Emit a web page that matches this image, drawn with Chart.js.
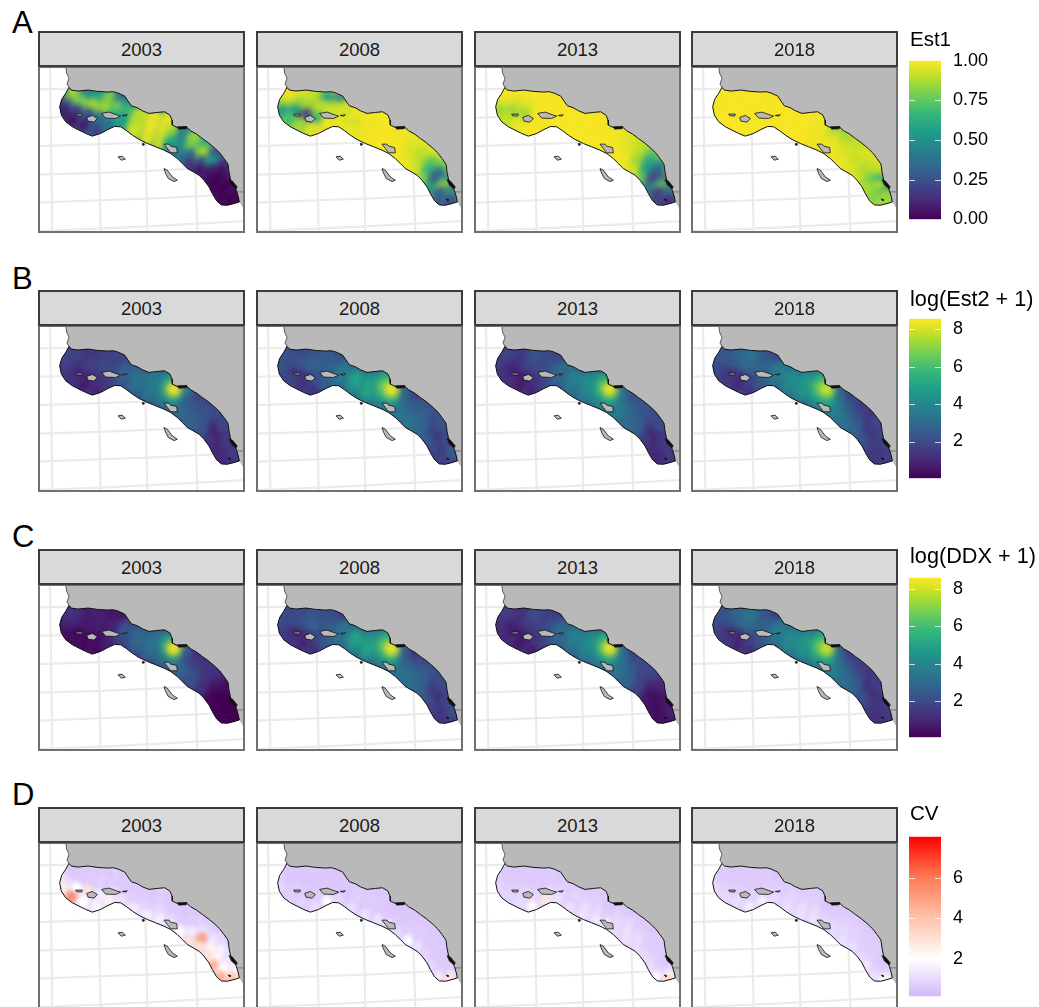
<!DOCTYPE html>
<html>
<head>
<meta charset="utf-8">
<script src="https://cdn.jsdelivr.net/npm/chart.js@4"></script>
<style>
html, body { margin: 0; background: #fff; }
#page { position: relative; width: 1039px; height: 1007px; overflow: hidden; font-family: "Liberation Sans", sans-serif; color: #000; }
#page > * { position: absolute; }
.strip { box-sizing: border-box; width: 207px; height: 36px; background: #d9d9d9; border: 2px solid #3c3c3c; color: #1a1a1a; font-size: 18.5px; line-height: 33px; text-align: center; }
.frame { box-sizing: border-box; width: 207px; height: 167px; border: 2px solid #707070; }
.letter { font-size: 31px; line-height: 30px; }
.ltitle { line-height: 24px; white-space: nowrap; }
</style>
</head>
<body>
<div id="page"></div>
<script>
const years = ['2003', '2008', '2013', '2018'];
const letters = ['A', 'B', 'C', 'D'];

// Map outlines, in map units (3 units per pixel of a panel)
const coastX = [205,212,232,262,290,320,338,352,372,380,392,410,425,445,470,492,508,514,515,530,558,570,588,605,622,640,657,670,682,685,690,700,707,713,716];
const coastY = [232,240,243,240,244,246,245,249,258,270,287,293,302,310,307,305,315,330,345,352,351,362,372,385,397,412,428,445,462,485,510,525,540,560,575];
const offX = [700,680,662,648,635,625,610,595,578,560,545,530,510,490,465,440,415,395,378,360,342,322,300,275,255,235,215,195,182,177,183,195];
const offY = [580,585,584,572,550,530,510,495,485,475,460,445,430,420,410,400,388,375,362,350,349,358,370,378,370,360,350,335,315,290,268,250];
const northCoastX = [195,198,205,199,205];
const northCoastY = [168,190,205,222,232];
const landCornerX = [728,733,733,195];
const landCornerY = [595,595,168,168];
const borderLineX = [710,733];
const borderLineY = [545,545];

const islands = [
  [[225,312],[245,312],[243,318],[228,317]],
  [[258,322],[275,316],[290,325],[280,336],[262,333]],
  [[303,310],[325,306],[350,315],[360,318],[345,325],[315,324]],
  [[365,316],[380,314],[375,318]],
  [[490,402],[505,402],[510,408],[528,412],[530,428],[510,428],[500,415]],
  [[352,440],[365,438],[374,447],[362,450]],
  [[490,475],[500,480],[515,500],[530,510],[520,514],[503,505],[495,490]]
];
const blobs = [
  [[530,350],[558,349],[556,356],[534,357]],
  [[425,400],[430,400],[430,405],[425,405]],
  [[685,508],[695,512],[710,530],[706,536],[692,524]],
  [[682,566],[690,568],[688,572]]
];

// Graticule lines
const gridLines = [
  [[148,168],[155,668]], [[290,168],[300,668]], [[430,168],[440,668]], [[575,168],[590,668]],
  [[112,238],[300,234]], [[112,323],[300,318]], [[112,408],[300,402],[440,397],[600,390]],
  [[112,493],[300,488],[440,482],[590,475],[733,468]], [[112,577],[300,570],[440,565],[590,558],[733,550]],
  [[112,662],[300,655],[440,648],[590,640],[733,632]]
];

// Sampling sections across the strip: coast end and offshore end
const sectCoastX = [208,235,265,300,335,370,392,425,465,505,520,555,585,620,650,675,688,708];
const sectCoastY = [236,243,240,243,247,258,285,303,308,315,350,350,370,395,420,455,505,545];
const sectOffX = [178,182,205,240,280,320,355,395,435,475,510,535,565,595,620,635,655,690];
const sectOffY = [285,315,345,362,378,358,350,375,398,412,428,447,478,495,525,550,580,585];
const rowFractions = [0.125, 0.375, 0.625, 0.875];

// Values: 18 sections, 4 cells from coast to offshore
const est1_2003 = [.7,.75,.35,.1, .9,.85,.3,.07, .45,.8,.2,.05, .55,.85,.25,.08, .8,.87,.35,.2, .35,.8,.65,.35,
  .55,.7,.6,.55, .9,.9,.88,.93, .97,.97,.97,.95, .98,.98,.95,.92, .9,.85,.65,.5, .45,.45,.5,.4,
  .85,.8,.35,.15, .65,.9,.3,.05, .25,.55,.08,.03, .12,.03,.01,.01, .03,.01,.01,.01, .05,.02,.01,.01];
const est1_2008 = [.98,.98,.95,.85, .98,.98,.9,.55, .95,.85,.55,.7, .9,.85,.2,.85, .6,.9,.65,.95, .45,.9,.95,.98,
  .9,.95,.93,.97, .97,.97,.93,.97, .99,.98,.98,.98, .99,.99,.99,.99, .99,.99,.99,.99, .98,.98,.99,.99,
  .97,.95,.95,.98, .97,.9,.9,.93, .95,.75,.65,.8, .8,.4,.28,.55, .45,.85,.3,.3, .2,.7,.35,.25];
const est1_2013 = [.99,.99,.97,.95, .99,.99,.95,.85, .99,.95,.85,.9, .99,.95,.85,.97, .99,.99,.98,.99, .99,.99,.99,.99,
  .99,.99,.99,.99, .99,.99,.99,.99, .99,.99,.99,.99, .99,.99,.99,.99, .98,.99,.99,.99, .97,.98,.99,.99,
  .95,.95,.97,.98, .9,.9,.85,.92, .75,.6,.55,.75, .5,.3,.2,.4, .3,.75,.2,.2, .15,.6,.2,.15];
const est1_2018 = [.99,.99,.99,.99, .99,.99,.99,.98, .99,.99,.99,.99, .99,.99,.99,.99, .99,.99,.99,.99, .99,.99,.99,.99,
  .99,.99,.99,.99, .99,.99,.99,.99, .99,.99,.99,.99, .98,.98,.98,.98, .97,.97,.97,.97, .8,.95,.97,.98,
  .85,.93,.95,.97, .9,.93,.92,.95, .95,.92,.88,.93, .93,.88,.78,.88, .6,.9,.8,.82, .4,.85,.82,.85];

const est2_2003 = [1.8,1.8,1.8,1.8, 1.7,1.5,1.3,1.3, 1.3,1.4,.8,1.2, 1.5,1.7,.9,.7, 1.7,1.9,1.2,.9, 1.8,1.9,1.6,1.5,
  2.3,2.7,2.5,2.2, 2.8,3.3,3,2.5, 3.3,3.5,3.4,2.8, 4.2,4.6,3.8,3, 8.3,4.6,3.5,3, 3.3,2.6,2.7,3,
  1.7,2.3,2.5,2.8, 2.1,2.2,2.3,2.3, 2,1,.6,1.3, 1.9,1,.6,.9, 1.6,1.2,1,1, 1.6,1.3,1.2,1.2];
const est2_2008 = [2,2.2,2.2,2.2, 2,2,1.6,2, 2,2.2,.9,1.7, 2.3,2.7,1.2,1.2, 2.5,2.6,2,1.3, 2,2.8,2.7,2.6,
  3,3.5,3.4,3, 3.3,5,4.2,3.5, 3.8,4.8,5,3.8, 5.2,6.2,5,3.5, 8.3,5.6,4,3.3, 2.7,2.8,3,3.3,
  1.6,2.5,3,3.3, 2.2,2.6,2.8,2.9, 2.2,1.9,1.5,2.4, 2.2,1.3,.9,1.9, 2,1.5,1.2,1.7, 2.5,1.8,1.4,1.6];
const est2_2013 = [1.8,1.7,1.5,1.6, 1.6,1.2,1,1.3, 1.4,1.2,.6,1.2, 2.2,1.8,.7,.7, 2,2,1.2,.9, 1.7,2.4,2,1.7,
  2.8,3,2.8,2.5, 3.3,3.8,3.4,3, 3.8,4.2,4,3.3, 4.8,5.6,4.6,3.6, 8.2,5.2,4.2,3.5, 3.2,3.4,3.6,3.6,
  2,2.6,3,3, 2.3,2.3,2.5,2.6, 2.1,1.5,1,1.5, 2,1,.7,1, 1.5,1.2,.9,1, 1.5,1.2,1.1,1.2];
const est2_2018 = [2.2,2.4,2.2,2, 2.4,2.2,1.5,1.8, 2.8,2.4,.9,1.5, 3.2,3,1.1,1, 2.4,2.8,1.8,1.3, 1.8,2.8,2.6,2.4,
  3.2,3.6,3.4,2.8, 3.4,4.2,4,3.4, 4,4.6,4.4,3.6, 5,6,5,3.6, 7.8,5.4,4.6,3.8, 2.8,3.2,3.6,3.8,
  1.6,2.4,3,3.2, 1.5,1.8,2.4,2.8, 1.4,1.4,1.5,2.2, 1.8,1.3,1.2,1.6, 1.7,1.5,1.3,1.5, 1.7,1.5,1.4,1.5];

const ddx_2003 = [1.4,1.2,.8,.7, 1.1,1,.6,.4, .7,.7,.3,.3, .8,.7,.3,.2, .6,.7,.4,.3, .5,1,.9,.8,
  2,2.3,2,1.6, 2.6,3,2.6,2.2, 3,3.3,3.2,2.5, 4.3,4.6,3.6,2.7, 8.3,4.4,3.3,2.8, 2.5,2,2.5,2.8,
  1.2,1.6,2.2,2.2, 1.4,1.4,1.3,1.2, 1.2,.6,.2,.2, .4,.1,.1,.1, .1,.1,.1,.1, .1,.1,.1,.1];
const ddx_2008 = [1.9,2,2,2, 2,1.9,1.4,1.6, 2,2.1,.7,1.3, 2.2,2.6,1,.9, 2.1,2.4,1.8,1.1, 1.5,2.6,2.6,2.5,
  2.9,3.4,3.3,2.9, 3.2,5,4.2,3.5, 3.7,4.8,5,3.6, 5.1,6,4.8,3.4, 8.3,5.4,4,3.3, 2.4,2.7,3,3.3,
  1.4,2.4,3,3.2, 2,2.5,2.7,2.8, 2.1,1.8,1.3,2.2, 2,1.1,.8,1.7, 1.8,1.3,1,1.4, 2.1,1.5,1.2,1.4];
const ddx_2013 = [1.7,1.5,1.3,1.4, 1.4,1,.8,1.1, 1.2,1,.5,1, 2,1.6,.6,.6, 1.7,1.8,1.2,.8, 1.5,2.3,2,1.7,
  2.8,3,2.9,2.5, 3.3,3.8,3.3,2.9, 3.7,4.2,4,3.2, 4.8,5.6,4.5,3.5, 8.2,5,4,3.4, 3,3.2,3.4,3.4,
  1.8,2.4,2.8,2.8, 2,1.9,1.8,1.8, 1.9,1,.5,.6, 1,.4,.3,.4, .6,.4,.3,.4, .8,.5,.4,.4];
const ddx_2018 = [2.1,2.3,2.2,1.9, 2.3,2.1,1.4,1.7, 2.9,2.4,.8,1.4, 3.4,3,1,.9, 2.3,2.8,1.7,1.2, 1.6,2.8,2.6,2.3,
  3.1,3.6,3.4,2.8, 3.3,4.2,4,3.3, 3.9,4.6,4.4,3.5, 5,5.9,5,3.5, 7.8,5.2,4.6,3.8, 2.6,3.1,3.5,3.7,
  1.4,2.3,3,3.1, 1.5,1.7,2.3,2.7, 1.4,1.3,1.4,2.1, 1.6,1.2,1.1,1.5, 1.5,1.3,1.1,1.3, 1.6,1.4,1.2,1.3];

const cv_2003 = [.6,.6,1,2.6, .6,.6,1,2.6, .6,.65,2,5.5, .6,.65,3,2, .6,.65,1.5,1.8, .6,.65,1.2,2.4,
  .6,.6,.7,1.3, .6,.65,.7,1.5, .6,.65,.8,1.6, .6,.65,1,1.6, .6,.65,1,1.4, .6,.6,.7,2.1,
  .6,.7,1.5,3, .65,1.1,5,3.2, .7,1.3,2.4,3, .9,1.6,2.2,4.5, 1.2,1.5,2,4.5, 1.6,2.3,3,4];
const cv_2008 = [.6,.6,.6,1, .6,.55,.6,.9, .6,.6,.7,.8, .6,.55,.7,.9, .6,.6,.7,1.1, .6,.6,.7,2,
  .65,.65,.6,1, .7,.8,.7,1.1, .65,.75,.65,1.3, .6,.65,.7,1.3, .55,.6,.65,1.4, .55,.6,.65,1,
  .55,.65,.8,2, .6,.75,.75,1.2, .6,.65,.7,1, .65,.65,.65,1, .65,.65,.7,1.4, .7,.8,1.2,3];
const cv_2013 = [.6,.6,.65,.9, .65,.6,.7,.9, .6,.65,.8,.9, .65,.6,.9,1.1, .65,.65,1,2.2, .6,.7,1.4,2.8,
  .65,.75,.9,1.2, .7,.9,.8,1.2, .65,.8,1.1,1.3, .65,.8,1,1.4, .55,.65,.9,2, .6,.9,1,1.1,
  .6,1,1.2,1.2, .65,.8,1.1,1.1, .6,.75,.8,1.1, .65,.7,.8,1.2, .65,.65,.8,1.8, .7,.9,1.8,3.4];
const cv_2018 = [2.6,.6,.65,.9, .6,.6,.7,1, .6,.65,.8,1, .65,.65,.8,1.1, .65,.65,.8,1.5, .6,.7,.9,1.6,
  .65,.75,.8,1.1, .7,.9,1,1.2, .65,.8,1.1,1.2, .65,.8,1.1,1.3, .55,.65,.9,1.3, .55,.7,.9,1.1,
  .6,.8,1,1.2, .65,.8,.9,1.2, .6,.7,.8,1.1, .65,.7,.8,1.4, .65,.65,.8,1.2, .7,.75,1,2.2];

const est1Fields = [est1_2003, est1_2008, est1_2013, est1_2018];
const est2Fields = [est2_2003, est2_2008, est2_2013, est2_2018];
const ddxFields = [ddx_2003, ddx_2008, ddx_2013, ddx_2018];
const cvFields = [cv_2003, cv_2008, cv_2013, cv_2018];

// Colour bars
const legendTitles = ['Est1', 'log(Est2 + 1)', 'log(DDX + 1)', 'CV'];
const legendTitleSizes = [20.5, 21.7, 21.7, 20.5];
const est1Ticks = [0, 0.25, 0.5, 0.75, 1];
const logTicks = [2, 4, 6, 8];
const cvTicks = [2, 4, 6];
const viridis = ['#440154','#482878','#3e4989','#31688e','#26828e','#1f9e89','#35b779','#6ece58','#b5de2b','#fde725'];
const cvStops = [[0,'#d2b8fb'],[0.232,'#ffffff'],[0.488,'#ffc3ac'],[0.744,'#ff7a55'],[1,'#ff0000']];
const viridisStops = viridis.map((c, i) => [i / (viridis.length - 1), c]);

// Page layout
const rowTops = [31, 290, 549, 807];
const colLefts = [38, 256, 474, 691];
const letterTops = [8, 264, 522, 780];
const barLeft = 909;
const barTops = [58, 316, 575, 834];
const barHeights = [164, 165, 165, 165];
const legendTitleTops = [27, 287, 544, 801];
const ranges = [[0, 1], [0.04, 8.56], [0.07, 8.59], [0.19, 8]];
const cellRadius = [8, 8, 8, 6];
const cellBlur = [3, 3, 3, 2];
const sortCells = [false, true, true, false];

function hexToRgb(h) {
    return [1, 3, 5].map(i => parseInt(h.substr(i, 2), 16));
}

function colorAt(stops, t) {
    t = Math.max(0, Math.min(1, t));
    for (let i = 1; i < stops.length; i++) {
        if (t <= stops[i][0]) {
            const f = (t - stops[i - 1][0]) / (stops[i][0] - stops[i - 1][0]);
            const a = hexToRgb(stops[i - 1][1]);
            const b = hexToRgb(stops[i][1]);
            return 'rgb(' + a.map((v, k) => Math.round(v + (b[k] - v) * f)).join(',') + ')';
        }
    }
    return stops[stops.length - 1][1];
}

function zip(xs, ys) {
    return xs.map((x, i) => ({ x: x, y: ys[i] }));
}

function toPoints(pairs) {
    return pairs.map(p => ({ x: p[0], y: p[1] }));
}

function tracePath(ctx, elements) {
    ctx.beginPath();
    elements.forEach((el, i) => i ? ctx.lineTo(el.x, el.y) : ctx.moveTo(el.x, el.y));
    ctx.closePath();
}

// Fills closed outlines and keeps the cells inside the strip
const mapLayers = {
    id: 'mapLayers',
    beforeDatasetDraw(chart, args) {
        const ds = chart.data.datasets[args.index];
        const ctx = chart.ctx;
        if (ds.polygonFill) {
            tracePath(ctx, args.meta.data);
            ctx.fillStyle = ds.polygonFill;
            ctx.fill();
        }
        if (ds.heat) {
            ctx.save();
            tracePath(ctx, chart.getDatasetMeta(ds.clipIndex).data);
            ctx.clip();
            ctx.fillStyle = ds.baseColor;
            ctx.fill();
            ctx.filter = 'blur(' + ds.blur + 'px)';
        }
    },
    afterDatasetDraw(chart, args) {
        if (chart.data.datasets[args.index].heat) {
            chart.ctx.restore();
        }
    }
};

function lineSet(points, color, width, order, fill) {
    return {
        data: points, showLine: true, borderColor: color, borderWidth: width, tension: 0,
        pointRadius: 0, order: order, polygonFill: fill || null
    };
}

function mapDatasets(values, stops, range, row) {
    const cells = [];
    sectCoastX.forEach((cx, s) => {
        rowFractions.forEach((f, r) => {
            cells.push({
                x: cx + (sectOffX[s] - cx) * f,
                y: sectCoastY[s] + (sectOffY[s] - sectCoastY[s]) * f,
                v: values[s * rowFractions.length + r]
            });
        });
    });
    if (sortCells[row]) cells.sort((a, b) => a.v - b.v);
    const toColor = v => colorAt(stops, (v - range[0]) / (range[1] - range[0]));
    const median = values.slice().sort((a, b) => a - b)[Math.floor(values.length / 2)];

    const strip = zip(coastX.concat(offX), coastY.concat(offY));
    const land = zip(northCoastX.concat(coastX, landCornerX), northCoastY.concat(coastY, landCornerY));
    const sets = [];
    gridLines.forEach(g => sets.push(lineSet(toPoints(g), '#ebebeb', 2.2, 9)));
    sets.push(lineSet(land, 'rgba(0,0,0,0)', 0, 8, '#b9b9b9'));
    sets.push(lineSet(zip(northCoastX, northCoastY), '#222', 0.7, 7));
    sets.push(lineSet(zip(borderLineX, borderLineY), '#555', 0.7, 7));
    const stripIndex = sets.length;
    sets.push(lineSet(strip.concat([strip[0]]), '#111', 1, 3));
    sets.push({
        data: cells.map(c => ({ x: c.x, y: c.y })), showLine: false,
        pointRadius: cellRadius[row], pointBorderWidth: 0,
        pointBackgroundColor: cells.map(c => toColor(c.v)),
        order: 5, heat: true, clipIndex: stripIndex, baseColor: toColor(median), blur: cellBlur[row]
    });
    islands.forEach(p => sets.push(lineSet(toPoints(p.concat([p[0]])), '#111', 0.8, 2, '#b9b9b9')));
    blobs.forEach(p => sets.push(lineSet(toPoints(p.concat([p[0]])), '#111', 0.6, 1, '#111')));
    return sets;
}

function addEl(cls, left, top, text) {
    const el = document.createElement('div');
    el.className = cls;
    el.style.left = left + 'px';
    el.style.top = top + 'px';
    if (text) el.textContent = text;
    document.getElementById('page').appendChild(el);
    return el;
}

function addCanvas(left, top, w, h) {
    const c = document.createElement('canvas');
    c.width = w;
    c.height = h;
    c.style.cssText = 'left:' + left + 'px;top:' + top + 'px;width:' + w + 'px;height:' + h + 'px';
    document.getElementById('page').appendChild(c);
    return c;
}

function drawPanel(left, top, values, stops, range, row) {
    const canvas = addCanvas(left, top, 207, 167);
    new Chart(canvas.getContext('2d'), {
        type: 'scatter',
        data: { datasets: mapDatasets(values, stops, range, row) },
        options: {
            responsive: false,
            animation: false,
            layout: { padding: 0, autoPadding: false },
            plugins: { legend: { display: false }, tooltip: { enabled: false } },
            scales: {
                x: { type: 'linear', min: 112, max: 733, display: false },
                y: { type: 'linear', min: 168, max: 668, reverse: true, display: false }
            }
        },
        plugins: [mapLayers]
    });
}

// Colour bar painted in the chart area, ticks from the y scale
const colorBar = {
    id: 'colorBar',
    beforeDatasetsDraw(chart, args, opts) {
        const { ctx, chartArea: a, scales: { y } } = chart;
        const grad = ctx.createLinearGradient(0, a.bottom, 0, a.top);
        opts.stops.forEach(s => grad.addColorStop(s[0], colorAt(opts.stops, s[0])));
        ctx.fillStyle = grad;
        ctx.fillRect(a.left, a.top, a.right - a.left, a.bottom - a.top);
        ctx.fillStyle = 'rgba(255,255,255,0.75)';
        y.ticks.forEach(t => {
            if (t.value <= y.min || t.value >= y.max) return;
            const py = Math.round(y.getPixelForValue(t.value));
            ctx.fillRect(a.left, py, 6, 1);
            ctx.fillRect(a.right - 6, py, 6, 1);
        });
    }
};

function drawLegend(row, ticks, stops, digits) {
    const pad = 12;
    const canvas = addCanvas(barLeft, barTops[row] - pad, 130, barHeights[row] + pad * 2);
    new Chart(canvas.getContext('2d'), {
        type: 'scatter',
        data: { datasets: [] },
        options: {
            responsive: false,
            animation: false,
            layout: { padding: { top: pad, bottom: pad, left: 0, right: 0 }, autoPadding: false },
            plugins: { legend: { display: false }, tooltip: { enabled: false }, colorBar: { stops: stops } },
            scales: {
                x: { type: 'linear', display: false },
                y: {
                    type: 'linear',
                    position: 'right',
                    min: ranges[row][0],
                    max: ranges[row][1],
                    grid: { display: false },
                    border: { display: false },
                    afterBuildTicks: scale => { scale.ticks = ticks.map(v => ({ value: v })); },
                    afterFit: scale => { scale.width = 98; },
                    ticks: {
                        autoSkip: false,
                        padding: 4,
                        color: '#000',
                        font: { family: '"Liberation Sans"', size: 18 },
                        callback: v => v.toFixed(digits)
                    }
                }
            }
        },
        plugins: [colorBar]
    });
}

const rowFields = [est1Fields, est2Fields, ddxFields, cvFields];
const rowStops = [viridisStops, viridisStops, viridisStops, cvStops];
const rowTicks = [est1Ticks, logTicks, logTicks, cvTicks];

rowTops.forEach((top, r) => {
    addEl('letter', 12, letterTops[r], letters[r]);
    colLefts.forEach((left, c) => {
        drawPanel(left, top + 35, rowFields[r][c], rowStops[r], ranges[r], r);
        addEl('frame', left, top + 35);
        addEl('strip', left, top, years[c]);
    });
    addEl('ltitle', barLeft + 1, legendTitleTops[r], legendTitles[r]).style.fontSize = legendTitleSizes[r] + 'px';
    drawLegend(r, rowTicks[r], rowStops[r], r === 0 ? 2 : 0);
});
</script>
</body>
</html>
